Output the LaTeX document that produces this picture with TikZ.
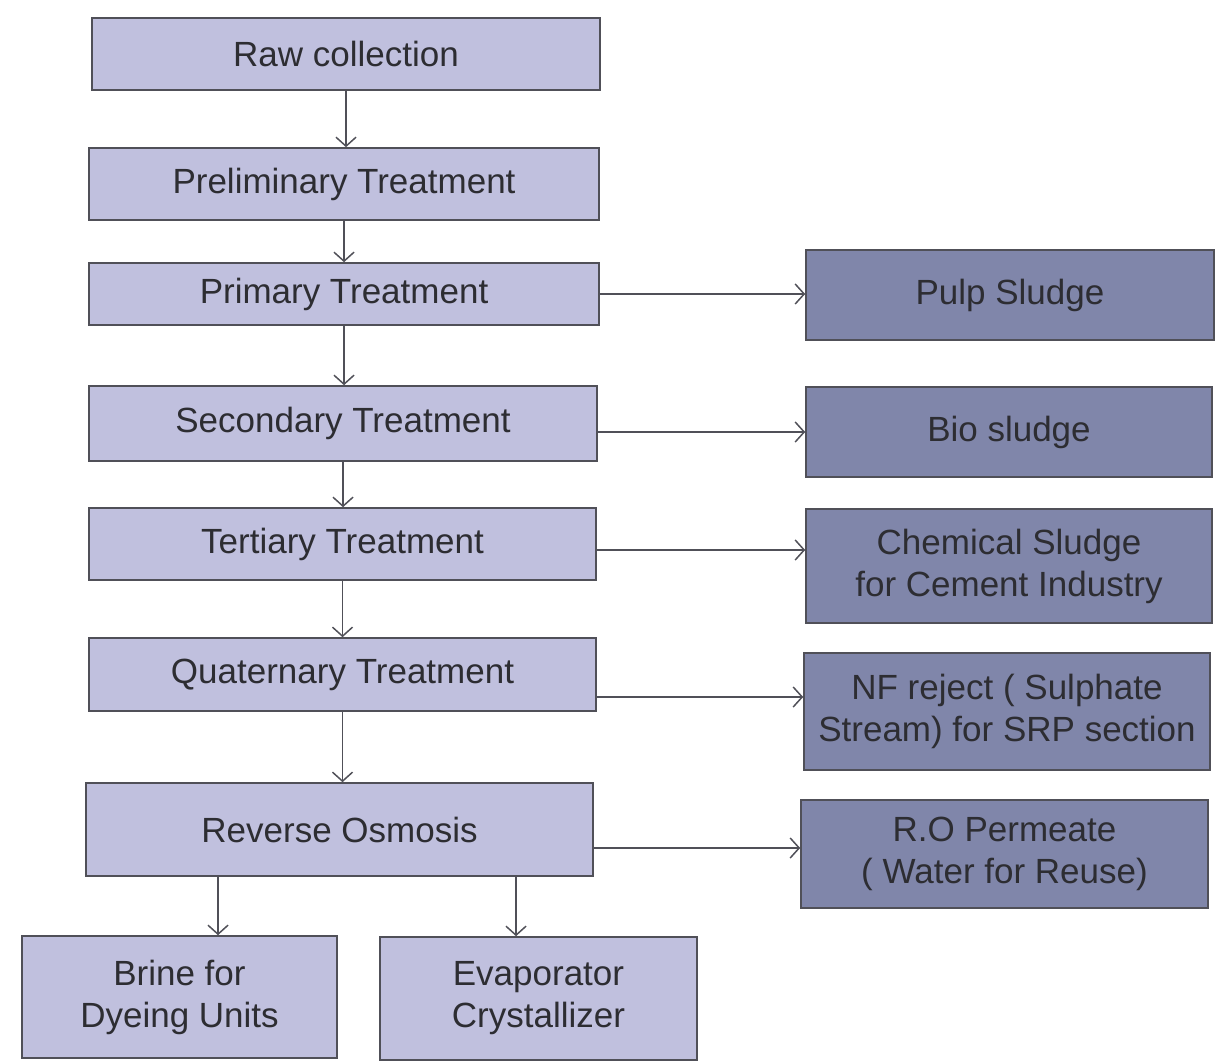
\documentclass[tikz,border=0pt]{standalone}
\usepackage{fontspec}
\setmainfont{Liberation Sans}
\usetikzlibrary{arrows.meta}
\definecolor{leftfill}{RGB}{192,192,222}
\definecolor{rightfill}{RGB}{128,134,170}
\definecolor{edgecol}{RGB}{80,80,88}
\definecolor{txtcol}{RGB}{45,45,50}
\tikzset{
  box/.style={draw=edgecol, line width=1.6pt, inner sep=0pt, align=center,
    text=txtcol, font=\fontsize{35}{42}\selectfont},
  lbox/.style={box, fill=leftfill},
  rbox/.style={box, fill=rightfill},
  conn/.style={draw=edgecol, line width=1.5pt, -{Straight Barb[length=9pt,width=20pt,line width=1.5pt]}}
}
\begin{document}
\begin{tikzpicture}[x=1pt,y=-1pt]
\useasboundingbox (0,0) rectangle (1224,1064);
% left column
\node[lbox, minimum width=508pt, minimum height=72pt] (raw) at (346,54) {Raw collection};
\node[lbox, minimum width=510pt, minimum height=72pt] (prelim) at (344,184) {Preliminary Treatment};
\node[lbox, minimum width=510pt, minimum height=62pt] (primary) at (344,294) {Primary Treatment};
\node[lbox, minimum width=508pt, minimum height=75pt] (secondary) at (343,423.5) {Secondary Treatment};
\node[lbox, minimum width=507pt, minimum height=72pt] (tertiary) at (342.5,544) {Tertiary Treatment};
\node[lbox, minimum width=507pt, minimum height=73pt] (quaternary) at (342.5,674.5) {Quaternary Treatment};
\node[lbox, minimum width=507pt, minimum height=93pt] (ro) at (339.5,829.5) {Reverse Osmosis};
\node[lbox, minimum width=315pt, minimum height=122pt] (brine) at (179.5,997) {Brine for\\Dyeing Units};
\node[lbox, minimum width=317pt, minimum height=123pt] (evap) at (538.5,998.5) {Evaporator\\Crystallizer};
% right column
\node[rbox, minimum width=408pt, minimum height=90pt] (pulp) at (1010,295) {Pulp Sludge};
\node[rbox, minimum width=406pt, minimum height=90pt] (bio) at (1009,432) {Bio sludge};
\node[rbox, minimum width=406pt, minimum height=114pt] (chem) at (1009,566) {Chemical Sludge\\for Cement Industry};
\node[rbox, minimum width=406pt, minimum height=117pt] (nf) at (1007,711.5) {NF reject ( Sulphate\\Stream) for SRP section};
\node[rbox, minimum width=407pt, minimum height=108pt] (perm) at (1004.5,854) {R.O Permeate\\( Water for Reuse)};
% vertical connectors
\draw[conn] (raw.south) -- (raw.south |- prelim.north);
\draw[conn] (prelim.south) -- (prelim.south |- primary.north);
\draw[conn] (primary.south) -- (primary.south |- secondary.north);
\draw[conn] (secondary.south) -- (secondary.south |- tertiary.north);
\draw[conn] (tertiary.south) -- (tertiary.south |- quaternary.north);
\draw[conn] (quaternary.south) -- (quaternary.south |- ro.north);
\coordinate (robrine) at ([xshift=-121.5pt]ro.south);
\coordinate (roevap) at ([xshift=176.5pt]ro.south);
\draw[conn] (robrine) -- (robrine |- brine.north);
\draw[conn] (roevap) -- (roevap |- evap.north);
% horizontal connectors
\draw[conn] (primary.east) -- (primary.east -| pulp.west);
\coordinate (secout) at ([yshift=-8.5pt]secondary.east);
\draw[conn] (secout) -- (secout -| bio.west);
\coordinate (terout) at ([yshift=-6pt]tertiary.east);
\draw[conn] (terout) -- (terout -| chem.west);
\coordinate (quaout) at ([yshift=-22.5pt]quaternary.east);
\draw[conn] (quaout) -- (quaout -| nf.west);
\coordinate (roout) at ([yshift=-18.5pt]ro.east);
\draw[conn] (roout) -- (roout -| perm.west);
\end{tikzpicture}
\end{document}
